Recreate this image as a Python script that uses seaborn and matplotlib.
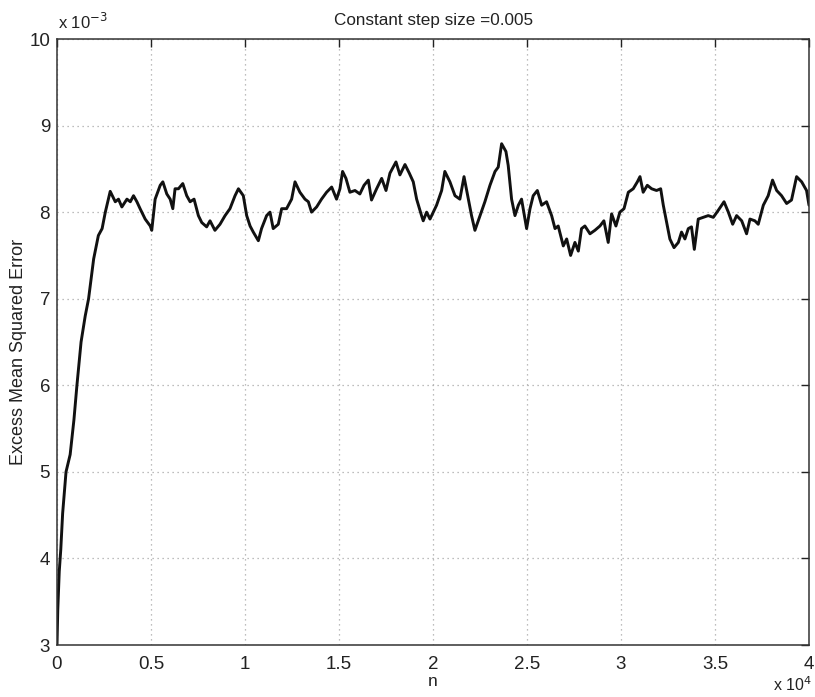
import matplotlib
matplotlib.use("Agg")
import matplotlib.pyplot as plt
import seaborn as sns
import pandas as pd

# n in units of 1e4, EMSE in units of 1e-3 (as displayed on the axes)
n_x1e4 = [0.0, 0.004, 0.012, 0.02, 0.03, 0.048, 0.07, 0.09, 0.106, 0.128, 0.15, 0.168,
          0.195, 0.22, 0.24, 0.257, 0.27, 0.283, 0.31, 0.327, 0.345, 0.372, 0.39, 0.407,
          0.425, 0.442, 0.469, 0.496, 0.504, 0.522, 0.549, 0.563, 0.584, 0.602, 0.616,
          0.628, 0.646, 0.669, 0.69, 0.708, 0.729, 0.752, 0.77, 0.796, 0.814, 0.84,
          0.867, 0.894, 0.92, 0.947, 0.965, 0.991, 1.009, 1.027, 1.044, 1.071, 1.088,
          1.115, 1.133, 1.15, 1.177, 1.195, 1.221, 1.248, 1.266, 1.292, 1.319, 1.337,
          1.354, 1.381, 1.407, 1.434, 1.461, 1.487, 1.505, 1.519, 1.537, 1.558, 1.585,
          1.611, 1.633, 1.656, 1.673, 1.7, 1.727, 1.75, 1.771, 1.803, 1.824, 1.851,
          1.874, 1.895, 1.913, 1.939, 1.948, 1.966, 1.984, 2.019, 2.046, 2.063, 2.09,
          2.117, 2.143, 2.165, 2.188, 2.205, 2.223, 2.25, 2.276, 2.303, 2.33, 2.347,
          2.365, 2.388, 2.4, 2.418, 2.436, 2.454, 2.471, 2.498, 2.516, 2.533, 2.555,
          2.578, 2.604, 2.631, 2.649, 2.666, 2.693, 2.711, 2.732, 2.755, 2.773, 2.79,
          2.808, 2.835, 2.861, 2.888, 2.909, 2.932, 2.95, 2.973, 2.994, 3.016, 3.039,
          3.065, 3.087, 3.101, 3.118, 3.14, 3.163, 3.189, 3.211, 3.225, 3.243, 3.26,
          3.282, 3.305, 3.322, 3.34, 3.358, 3.375, 3.39, 3.411, 3.438, 3.464, 3.491,
          3.517, 3.548, 3.571, 3.594, 3.615, 3.642, 3.668, 3.686, 3.712, 3.73, 3.757,
          3.783, 3.806, 3.828, 3.854, 3.881, 3.907, 3.934, 3.961, 3.987, 4.0]
emse_x1e3 = [3.0, 3.4, 3.85, 4.1, 4.52, 5.0, 5.2, 5.6, 6.0, 6.5, 6.8, 7.0,
             7.46, 7.73, 7.81, 8.0, 8.12, 8.24, 8.12, 8.15, 8.06, 8.15, 8.12, 8.19,
             8.12, 8.04, 7.92, 7.84, 7.79, 8.15, 8.31, 8.35, 8.21, 8.15, 8.04,
             8.27, 8.27, 8.33, 8.19, 8.12, 8.15, 7.96, 7.88, 7.83, 7.9, 7.79,
             7.86, 7.96, 8.04, 8.19, 8.27, 8.19, 7.96, 7.84, 7.77, 7.67, 7.81,
             7.96, 8.0, 7.81, 7.86, 8.04, 8.04, 8.15, 8.35, 8.23, 8.15, 8.12,
             8.0, 8.06, 8.15, 8.23, 8.29, 8.15, 8.27, 8.47, 8.39, 8.23, 8.25,
             8.21, 8.31, 8.37, 8.14, 8.27, 8.39, 8.25, 8.45, 8.58, 8.43, 8.55,
             8.45, 8.35, 8.15, 7.96, 7.9, 8.0, 7.92, 8.08, 8.25, 8.47, 8.35,
             8.19, 8.15, 8.41, 8.15, 7.96, 7.79, 7.96, 8.12, 8.31, 8.47, 8.52,
             8.79, 8.7, 8.54, 8.15, 7.96, 8.08, 8.15, 7.81, 8.04, 8.19, 8.25,
             8.08, 8.12, 7.96, 7.81, 7.84, 7.61, 7.69, 7.5, 7.65, 7.55, 7.81,
             7.84, 7.75, 7.79, 7.84, 7.9, 7.65, 7.98, 7.84, 8.0, 8.04, 8.23,
             8.27, 8.35, 8.41, 8.23, 8.31, 8.27, 8.25, 8.27, 8.08, 7.88, 7.69,
             7.59, 7.65, 7.77, 7.69, 7.81, 7.83, 7.57, 7.92, 7.94, 7.96, 7.94,
             8.02, 8.12, 8.0, 7.86, 7.96, 7.9, 7.75, 7.92, 7.9, 7.86, 8.08,
             8.19, 8.37, 8.25, 8.19, 8.1, 8.14, 8.41, 8.35, 8.25, 8.08]

x_ticks = [0, 0.5, 1, 1.5, 2, 2.5, 3, 3.5, 4]
x_tick_labels = ["0", "0.5", "1", "1.5", "2", "2.5", "3", "3.5", "4"]
y_ticks = [3, 4, 5, 6, 7, 8, 9, 10]
y_tick_labels = ["3", "4", "5", "6", "7", "8", "9", "10"]

title = "Constant step size =0.005"
xlabel = "n"
ylabel = "Excess Mean Squared Error"

sns.set_theme(style="white")
plt.rcParams['font.family'] = ['Liberation Sans', 'DejaVu Sans']

fig = plt.figure(figsize=(8.15, 6.97), dpi=100)
ax = fig.add_axes([57/815, 52/697, (809-57)/815, (645-39)/697])

df = pd.DataFrame({"n": n_x1e4, "emse": emse_x1e3})
sns.lineplot(data=df, x="n", y="emse", ax=ax, color="#111111", linewidth=2.1,
             estimator=None, sort=False)

ax.set_xlim(0, 4)
ax.set_ylim(3, 10)
ax.set_xticks(x_ticks)
ax.set_xticklabels(x_tick_labels)
ax.set_yticks(y_ticks)
ax.set_yticklabels(y_tick_labels)
ax.tick_params(direction="in", length=6, width=1, colors="#222222",
               labelsize=13.5, top=True, right=True, pad=5,
               labelcolor="#222222")
ax.tick_params(axis="x", pad=8)
ax.grid(True, linestyle=(0, (1, 3)), color="#a8a8a8", linewidth=0.9)
for s in ax.spines.values():
    s.set_color("#333333")
    s.set_linewidth(1.1)

ax.set_title(title, fontsize=12.3, color="#222222", pad=10)
ax.set_xlabel(xlabel, fontsize=12.5, color="#222222", labelpad=1)
ax.set_ylabel(ylabel, fontsize=13, color="#222222")
ax.yaxis.set_label_coords(-0.040, 0.4835)

fig.text(58/815, 1 - 22/697, r"x 10$^{-3}$", fontsize=12, color="#222222",
         ha="left", va="center")
fig.text(812/815, 1 - 685/697, r"x 10$^{4}$", fontsize=11.5, color="#222222",
         ha="right", va="center")

fig.savefig("out.png", dpi=100)
